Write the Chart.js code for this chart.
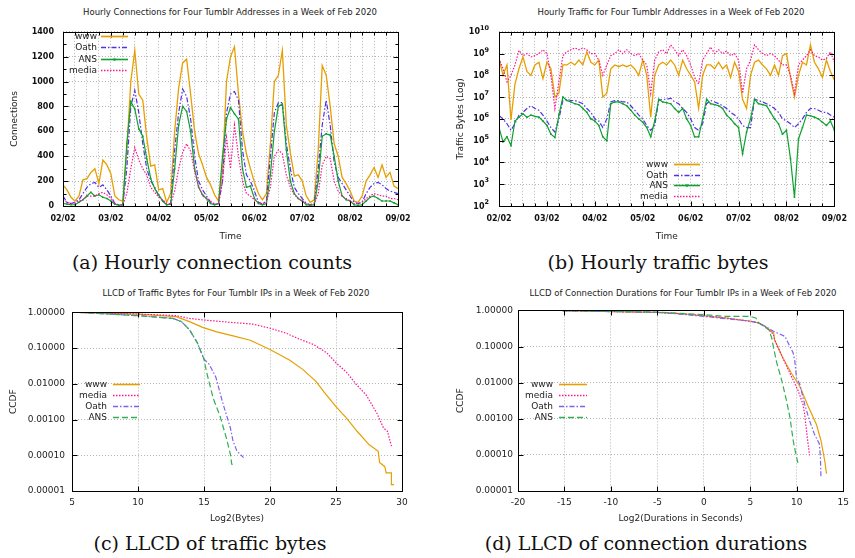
<!DOCTYPE html>
<html><head><meta charset="utf-8">
<script src="https://cdn.jsdelivr.net/npm/chart.js@4.4.1/dist/chart.umd.min.js"></script>
<style>
html,body{margin:0;padding:0;background:#fff;}
body{width:855px;height:558px;position:relative;overflow:hidden;font-family:"DejaVu Sans",sans-serif;}
canvas{position:absolute;}
.ttl{position:absolute;font-family:"DejaVu Sans";font-size:8.5px;line-height:10px;color:#222;white-space:nowrap;transform:translateX(-50%);}
.cap{position:absolute;font-family:"DejaVu Serif";font-size:19px;line-height:22px;color:#111;white-space:nowrap;transform:translateX(-50%);}
</style></head><body>
<div class="ttl" style="left:230px;top:7px">Hourly Connections for Four Tumblr Addresses in a Week of Feb 2020</div>
<div class="ttl" style="left:671px;top:7px">Hourly Traffic for Four Tumblr Addresses in a Week of Feb 2020</div>
<div class="ttl" style="left:236px;top:288px">LLCD of Traffic Bytes for Four Tumblr IPs in a Week of Feb 2020</div>
<div class="ttl" style="left:683px;top:288px">LLCD of Connection Durations for Four Tumblr IPs in a Week of Feb 2020</div>
<canvas id="ca" width="427" height="232" style="left:0;top:18px"></canvas>
<canvas id="cb" width="425" height="232" style="left:430px;top:18px"></canvas>
<canvas id="cc" width="430" height="230" style="left:0;top:300px"></canvas>
<canvas id="cd" width="425" height="230" style="left:430px;top:300px"></canvas>
<div class="cap" style="left:212px;top:251px">(a) Hourly connection counts</div>
<div class="cap" style="left:658px;top:251px">(b) Hourly traffic bytes</div>
<div class="cap" style="left:210px;top:532px">(c) LLCD of traffic bytes</div>
<div class="cap" style="left:646px;top:532px">(d) LLCD of connection durations</div>
<script>
// ---------- categories / tick labels ----------
const hours = [0,2,4,6,8,10,12,14,16,18,20,22,24,26,28,30,32,34,36,38,40,42,44,46,48,50,52,54,56,58,60,62,64,66,68,70,72,74,76,78,80,82,84,86,88,90,92,94,96,98,100,102,104,106,108,110,112,114,116,118,120,122,124,126,128,130,132,134,136,138,140,142,144,146,148,150,152,154,156,158,160,162,164,166,168];
const dayLabels = ['02/02','03/02','04/02','05/02','06/02','07/02','08/02','09/02'];
const logTicks = [1e2,1e3,1e4,1e5,1e6,1e7,1e8,1e9,1e10];
const logTickBase = '10';
const logTickExponents = ['2','3','4','5','6','7','8','9','10'];
const ccdfTicks = [1e-5,1e-4,1e-3,1e-2,1e-1,1];
const ccdfTickLabels = ['0.00001','0.00010','0.00100','0.01000','0.10000','1.00000'];

// ---------- (a) hourly connections ----------
const connWww = [170,130,70,40,80,210,220,270,300,180,370,330,
 260,80,50,40,450,1000,1250,900,850,550,320,330,
 130,140,30,100,600,950,1150,1180,900,600,420,330,
 230,170,90,40,300,1000,1200,1280,900,600,420,300,
 190,100,50,100,500,1000,1050,1250,650,430,240,250,
 200,80,30,50,450,1130,1050,800,500,400,230,180,
 120,40,30,80,200,250,310,230,330,230,270,160,
 140];
const connOath = [80,30,20,30,50,100,150,180,190,150,170,130,
 80,20,10,10,300,800,930,750,500,300,200,150,
 80,40,10,20,450,750,940,880,700,400,200,130,
 80,30,15,20,200,750,900,920,850,450,250,200,
 120,30,15,40,400,750,830,830,500,300,150,100,
 60,20,10,20,300,650,850,650,350,230,180,130,
 80,30,20,30,100,150,180,190,170,140,120,110,
 100];
const connAns = [20,15,10,10,30,50,80,110,80,90,70,60,
 40,15,5,10,500,840,780,620,560,380,220,140,
 90,40,10,15,300,650,800,760,600,300,150,90,
 60,20,10,20,400,700,790,740,700,300,150,160,
 60,20,10,20,250,600,800,820,450,200,100,60,
 40,10,5,10,200,560,580,570,400,200,80,50,
 40,10,5,10,40,70,80,60,40,40,40,25,
 10];
const connMedia = [50,30,20,25,40,50,80,80,80,100,110,90,
 60,20,10,10,100,300,470,370,300,250,150,110,
 70,50,20,15,120,300,430,500,440,280,160,80,
 60,40,15,20,200,550,300,650,400,200,100,80,
 50,30,20,30,150,400,450,420,250,150,90,60,
 40,20,10,15,100,330,400,380,200,120,80,60,
 40,20,20,30,60,80,100,90,80,80,60,60,
 50];

// ---------- (b) hourly traffic bytes ----------
const bytesWww = [6e8,1e8,3e8,9e5,4e7,2e8,7e8,1.5e8,1e8,3e8,4e8,7e7,
 4e8,2e8,1e7,1.5e7,3e8,3e8,4e8,3e8,5e8,3e8,1.2e9,4e8,
 3e8,5e8,1e7,1.5e7,2e8,3e8,2.5e8,3e8,2.5e8,3e8,2e8,1e8,
 5e8,1e8,1.2e6,1e8,3e8,4e8,3e8,5e8,3e8,1e8,5e8,2e8,
 1e8,5e7,3e6,1e8,3e8,3e8,2e8,4e8,2e8,3e8,8e7,4e8,
 1.5e8,8e6,3e6,1e8,4e8,5e8,3e8,2e8,1e8,3e8,1e8,8e8,
 1e9,8e7,1e7,1e8,4e8,3e8,2.5e9,4e8,2e8,8e7,5e8,1.5e8,
 6e7];
const bytesOath = [1.4e6,1e6,6e5,3e5,6e5,1.5e6,2e6,3e6,4e6,3e6,2.5e6,1.5e6,
 8e5,4e5,2.5e5,1e6,7e6,8e6,7e6,7e6,6e6,5e6,3e6,2e6,
 1e6,8e5,4e5,1e6,6e6,7e6,7e6,6e6,6e6,4e6,2.5e6,1.5e6,
 1e6,5e5,3e5,5e5,7e6,8e6,8e6,9e6,6e6,5e6,3e6,2e6,
 1e6,4e5,3e5,6e5,5e6,7e6,6e6,5e6,4e6,3e6,2e6,1.5e6,
 1e6,5e5,4e5,4e5,8e6,7e6,6e6,5e6,4e6,3e6,2e6,1e6,
 8e5,6e5,4e5,6e5,1e6,2e6,3e6,3e6,2.5e6,2e6,2e6,1.5e6,
 1.2e6];
const bytesAns = [4e5,9e4,1.5e5,6e4,8e5,1.2e6,1.7e6,1.2e6,1.5e6,1.3e6,1.2e6,8e5,
 5e5,2e5,1.4e5,1.5e6,1e7,7e6,6e6,5e6,4.5e6,3e6,2e6,1e6,
 8e5,5e5,1.5e5,1e5,5e6,6e6,6e6,5e6,4e6,2.5e6,1.5e6,1e6,
 7e5,4e5,1.5e5,8e5,8e6,6e6,5.5e6,5e6,3e6,2e6,3e6,1e6,
 5e5,1.5e5,1.5e5,1e6,8e6,5e6,4.5e6,4e6,3e6,1.5e6,1e6,6e5,
 4e5,2.5e4,2.5e5,1e6,8e6,5e6,4.5e6,4e6,2e6,1e6,6e5,2e5,
 3e5,1.5e4,2.5e2,1.2e5,4e5,1.5e6,1.4e6,1.2e6,1e6,7e5,5e5,8e5,
 3e5];
const bytesMedia = [6e8,2e8,5e7,1e8,3e8,1.4e9,8e8,1e9,7e8,8e8,1e9,1.5e9,
 1e9,1e8,3e6,5e7,8e8,1.2e9,1.5e9,1.8e9,1.5e9,1.8e9,1.5e9,1e9,
 1e9,5e8,1e8,3e8,8e8,1e9,1.5e9,1e9,1.5e9,1e9,8e8,1e9,
 5e8,3e8,1.5e7,5e8,1.2e9,1.5e9,1e9,2.5e9,1.5e9,8e8,1.5e9,8e8,
 3e8,8e7,4e7,5e8,1e9,2e9,1e9,1.5e9,1e9,1.3e9,8e8,1e9,
 5e8,1.5e7,2e8,5e8,2.5e9,1.5e9,1e9,8e8,1e9,8e8,5e8,3e8,
 3e8,1e8,1.5e7,3e8,5e8,8e8,1.5e9,8e8,7e8,5e8,6e8,1.2e9,
 4e8];

// ---------- (c) LLCD of traffic bytes ----------
const wwwBytesX = [5.5,10,12.9,13.9,14.9,15.9,17.2,18.5,20,21.5,22.5,23.5,24.1,25,25.8,26.6,27.5,28.2,28.3,28.7,28.8,29.2,29.2,29.4];
const wwwBytesY = [1.0,0.9,0.76,0.55,0.38,0.29,0.22,0.166,0.092,0.046,0.025,0.0116,0.0059,0.0023,0.0011,0.00047,0.0002,0.00013,0.000063,0.000048,0.000032,0.000032,0.000015,0.000015];
const mediaBytesX = [5.5,10,12.9,13.9,14.9,17.2,18.7,20,21.2,22.2,23.3,24.3,25,25.8,26.5,27.3,28.1,28.6,28.9,29.0,29.2];
const mediaBytesY = [1.0,0.9,0.81,0.68,0.615,0.52,0.47,0.36,0.264,0.18,0.126,0.074,0.039,0.021,0.01,0.0048,0.0015,0.00058,0.00047,0.00034,0.00018];
const oathBytesX = [5.5,10,12.65,13.3,13.9,14.5,15,15.4,15.9,16.4,17,17.2,17.5,18];
const oathBytesY = [1.0,0.81,0.68,0.55,0.326,0.14,0.049,0.035,0.0153,0.0031,0.00058,0.00025,0.00013,0.000086];
const ansBytesX = [5.5,10,12.65,13.3,13.9,14.5,15,15.2,15.7,16.2,16.7,17,17.1,17.3];
const ansBytesY = [1.0,0.81,0.68,0.55,0.326,0.14,0.049,0.021,0.0039,0.0013,0.0003,0.000106,0.000056,0.000056];

// ---------- (d) LLCD of connection durations ----------
const wwwDurX = [-15.2,-5,-2.5,0,2.4,5,5.9,6.6,7.5,7.6,8.5,9.4,10.3,11.2,12.1,12.6,13,13.2];
const wwwDurY = [0.98,0.88,0.81,0.71,0.615,0.5,0.45,0.36,0.238,0.155,0.048,0.0185,0.0081,0.0023,0.00071,0.00025,0.00007,0.00003];
const mediaDurX = [-15.2,-5,-2.5,0,2.4,5,5.9,6.6,7.5,7.6,8.5,9.4,10.14,10.67,10.85,11.13,11.37];
const mediaDurY = [0.98,0.88,0.81,0.71,0.615,0.5,0.45,0.36,0.214,0.155,0.048,0.0153,0.006,0.0025,0.0013,0.0003,0.000097];
const oathDurX = [-15.2,-5,-2.5,0,2.4,5,5.9,6.6,7.5,8.73,9.61,9.79,9.96,10.32,10.85,11.37,11.9,12.43,12.54,12.6];
const oathDurY = [0.98,0.88,0.79,0.68,0.59,0.5,0.45,0.36,0.264,0.19,0.066,0.039,0.0139,0.0091,0.0025,0.00089,0.00037,0.0002,0.000086,0.000024];
const ansDurX = [-15.2,-5,0,2.4,5,5.6,5.9,7,7.3,7.5,7.85,8.4,8.9,9.26,9.61,9.86,10.14];
const ansDurY = [0.98,0.9,0.76,0.68,0.68,0.615,0.45,0.29,0.173,0.092,0.035,0.011,0.0031,0.0011,0.00025,0.000118,0.000056];

// ---------- plugins ----------
const gnuFrame = {
  id: 'gnuFrame',
  afterDatasetsDraw(chart, args, o) {
    const {ctx, chartArea: a, scales} = chart;
    const L = Math.round(a.left) + 0.5, R = Math.round(a.right) + 0.5;
    const T = Math.round(a.top) + 0.5, B = Math.round(a.bottom) + 0.5;
    ctx.save();
    ctx.setLineDash([]);
    ctx.strokeStyle = '#000';
    ctx.lineWidth = 1;
    ctx.beginPath();
    const maj = o.major || 5, mn = o.minor || 3;
    scales.x.ticks.forEach(t => {
      const px = Math.round(scales.x.getPixelForValue(t.value)) + 0.5;
      const len = (t.label === '' ? mn : maj);
      ctx.moveTo(px, B); ctx.lineTo(px, B - len);
      ctx.moveTo(px, T); ctx.lineTo(px, T + len);
    });
    const yt = scales.y.ticks;
    yt.forEach((t, i) => {
      const py = Math.round(scales.y.getPixelForValue(t.value)) + 0.5;
      ctx.moveTo(L, py); ctx.lineTo(L + maj, py);
      ctx.moveTo(R, py); ctx.lineTo(R - maj, py);
      if (o.yMinorMid && i < yt.length - 1) {
        const pm = Math.round(scales.y.getPixelForValue((t.value + yt[i + 1].value) / 2)) + 0.5;
        ctx.moveTo(L, pm); ctx.lineTo(L + mn, pm);
        ctx.moveTo(R, pm); ctx.lineTo(R - mn, pm);
      }
    });
    ctx.stroke();
    ctx.strokeRect(L, T, R - L, B - T);
    // power-of-ten tick labels with raised exponents
    if (o.powerLabels) {
      ctx.fillStyle = '#111';
      ctx.textAlign = 'right';
      ctx.textBaseline = 'middle';
      yt.forEach((t, i) => {
        const py = scales.y.getPixelForValue(t.value);
        const xr = a.left - o.powerLabels.gap;
        ctx.font = 'bold 6.5px "DejaVu Sans"';
        const ew = ctx.measureText(logTickExponents[i]).width;
        ctx.fillText(logTickExponents[i], xr, py - 3.5);
        ctx.font = 'bold 8px "DejaVu Sans"';
        ctx.fillText(logTickBase, xr - ew, py + 0.5);
      });
    }
    ctx.restore();
  }
};
const gnuLegend = {
  id: 'gnuLegend',
  afterDraw(chart, args, o) {
    if (!o || o.textRight === undefined) return;
    const ctx = chart.ctx;
    ctx.save();
    ctx.font = '9px "DejaVu Sans"';
    ctx.textAlign = 'right';
    ctx.textBaseline = 'middle';
    chart.data.datasets.forEach((ds, i) => {
      const y = Math.round(o.top + i * o.step) + 0.5;
      ctx.fillStyle = '#222';
      ctx.fillText(ds.label, o.textRight, y);
      ctx.strokeStyle = ds.borderColor;
      ctx.lineWidth = (ds.borderWidth || 1) + 0.4;
      ctx.setLineDash(ds.borderDash || []);
      ctx.beginPath();
      ctx.moveTo(o.x0, y); ctx.lineTo(o.x1, y);
      ctx.stroke();
      if (ds.pointRadius) {
        const r = ds.pointRadius;
        ctx.fillStyle = ds.borderColor;
        ctx.fillRect((o.x0 + o.x1) / 2 - r, y - r, 2 * r, 2 * r);
      }
    });
    ctx.restore();
  }
};
Chart.register(gnuFrame, gnuLegend);
Chart.defaults.font.family = 'DejaVu Sans';
Chart.defaults.color = '#222';

const pts = (xs, ys) => xs.map((x, i) => ({x: x, y: ys[i]}));
const GRID = {color: '#b4b4b4', drawTicks: false, lineWidth: 1};
const BORDER = {display: false, dash: [1, 2]};
const C_WWW = '#e69f00', C_OATH = '#5030e8', C_ANS = '#10a030', C_MEDIA = '#ff1493';
const C_OATH2 = '#8060f0', C_ANS2 = '#30b050';

function lineDs(label, data, color, opts) {
  return Object.assign({label: label, data: data, borderColor: color, backgroundColor: color,
    borderWidth: 1.2, pointRadius: 0, tension: 0, fill: false}, opts || {});
}
function baseOptions(cfg) {
  return {
    responsive: false, animation: false, devicePixelRatio: 1,
    layout: {autoPadding: false, padding: {top: cfg.padTop, right: cfg.padRight, bottom: 0, left: 0}},
    plugins: {legend: {display: false}, title: {display: false}, tooltip: {enabled: false},
      gnuFrame: cfg.frame, gnuLegend: cfg.legend},
    scales: {x: cfg.x, y: cfg.y}
  };
}

// ---------- chart (a) ----------
new Chart(document.getElementById('ca'), {
  type: 'line',
  data: {datasets: [
    lineDs('www', pts(hours, connWww), C_WWW, {borderWidth: 1.3, order: 4}),
    lineDs('Oath', pts(hours, connOath), C_OATH, {borderDash: [5, 2, 1.5, 2], order: 3}),
    lineDs('ANS', pts(hours, connAns), C_ANS, {pointRadius: 1.1, pointStyle: 'rect', pointBorderWidth: 0, order: 2}),
    lineDs('media', pts(hours, connMedia), C_MEDIA, {borderDash: [1.5, 1.5], order: 1})
  ]},
  options: baseOptions({
    padTop: 9, padRight: 29,
    frame: {major: 5, minor: 3, yMinorMid: true},
    legend: {textRight: 97, x0: 101, x1: 128, top: 18, step: 11.3},
    x: {type: 'linear', min: 0, max: 168,
      ticks: {stepSize: 6, autoSkip: false, maxRotation: 0, padding: 8, color: '#111',
        font: {size: 8, weight: 'bold'},
        callback: v => (v % 24 === 0 ? dayLabels[v / 24] : '')},
      grid: GRID, border: BORDER,
      title: {display: true, text: 'Time', font: {size: 9}, color: '#222', padding: {top: 0, bottom: 8}},
      afterFit: s => { s.height = 44; }},
    y: {type: 'linear', min: 0, max: 1400,
      ticks: {stepSize: 200, padding: 9, color: '#111', font: {size: 8, weight: 'bold'}, callback: v => String(v)},
      grid: GRID, border: BORDER,
      title: {display: true, text: 'Connections', font: {size: 9}, color: '#222', padding: {top: 9, bottom: 0}},
      afterFit: s => { s.width = 63; }}
  })
});

// ---------- chart (b) ----------
new Chart(document.getElementById('cb'), {
  type: 'line',
  data: {datasets: [
    lineDs('www', pts(hours, bytesWww), C_WWW, {borderWidth: 1.3, order: 4}),
    lineDs('Oath', pts(hours, bytesOath), C_OATH, {borderDash: [5, 2, 1.5, 2], order: 3}),
    lineDs('ANS', pts(hours, bytesAns), C_ANS, {pointRadius: 1.1, pointStyle: 'rect', pointBorderWidth: 0, order: 2}),
    lineDs('media', pts(hours, bytesMedia), C_MEDIA, {borderDash: [1.5, 1.5], order: 1})
  ]},
  options: baseOptions({
    padTop: 10, padRight: 10,
    frame: {major: 5, minor: 3, powerLabels: {gap: 10}},
    legend: {textRight: 238, x0: 244, x1: 270, top: 146, step: 10.7},
    x: {type: 'linear', min: 0, max: 168,
      ticks: {stepSize: 6, autoSkip: false, maxRotation: 0, padding: 8, color: '#111',
        font: {size: 8, weight: 'bold'},
        callback: v => (v % 24 === 0 ? dayLabels[v / 24] : '')},
      grid: GRID, border: BORDER,
      title: {display: true, text: 'Time', font: {size: 9}, color: '#222', padding: {top: 0, bottom: 8}},
      afterFit: s => { s.height = 44; }},
    y: {type: 'logarithmic', min: 1e2, max: 1e10,
      afterBuildTicks: s => { s.ticks = logTicks.map(v => ({value: v})); },
      ticks: {autoSkip: false, padding: 9, color: '#111', font: {size: 8, weight: 'bold'},
        callback: () => ''},
      grid: GRID, border: BORDER,
      title: {display: true, text: 'Traffic Bytes (Log)', font: {size: 9}, color: '#222', padding: {top: 25, bottom: 0}},
      afterFit: s => { s.width = 69; }}
  })
});

// ---------- chart (c) ----------
new Chart(document.getElementById('cc'), {
  type: 'line',
  data: {datasets: [
    lineDs('www', pts(wwwBytesX, wwwBytesY), C_WWW, {order: 4}),
    lineDs('media', pts(mediaBytesX, mediaBytesY), C_MEDIA, {borderDash: [1.5, 1.5], order: 3}),
    lineDs('Oath', pts(oathBytesX, oathBytesY), C_OATH2, {borderDash: [5, 2, 1.5, 2], order: 2}),
    lineDs('ANS', pts(ansBytesX, ansBytesY), C_ANS2, {borderDash: [6, 3], order: 1})
  ]},
  options: baseOptions({
    padTop: 9, padRight: 28,
    frame: {major: 5, minor: 3},
    legend: {textRight: 107, x0: 113, x1: 140, top: 84, step: 11},
    x: {type: 'linear', min: 5, max: 30,
      ticks: {stepSize: 5, autoSkip: false, maxRotation: 0, padding: 6, color: '#222', font: {size: 9},
        callback: v => String(v)},
      grid: GRID, border: BORDER,
      title: {display: true, text: 'Log2(Bytes)', font: {size: 9}, color: '#222', padding: {top: 0, bottom: 6}},
      afterFit: s => { s.height = 39; }},
    y: {type: 'logarithmic', min: 1e-5, max: 1,
      afterBuildTicks: s => { s.ticks = ccdfTicks.map(v => ({value: v})); },
      ticks: {autoSkip: false, padding: 7, color: '#222', font: {size: 9},
        callback: (v, i) => ccdfTickLabels[i]},
      grid: GRID, border: BORDER,
      title: {display: true, text: 'CCDF', font: {size: 9}, color: '#222', padding: {top: 8, bottom: 0}},
      afterFit: s => { s.width = 72; }}
  })
});

// ---------- chart (d) ----------
new Chart(document.getElementById('cd'), {
  type: 'line',
  data: {datasets: [
    lineDs('www', pts(wwwDurX, wwwDurY), C_WWW, {order: 4}),
    lineDs('media', pts(mediaDurX, mediaDurY), C_MEDIA, {borderDash: [1.5, 1.5], order: 3}),
    lineDs('Oath', pts(oathDurX, oathDurY), C_OATH2, {borderDash: [5, 2, 1.5, 2], order: 2}),
    lineDs('ANS', pts(ansDurX, ansDurY), C_ANS2, {borderDash: [6, 3], order: 1})
  ]},
  options: baseOptions({
    padTop: 9, padRight: 7,
    frame: {major: 5, minor: 3},
    legend: {textRight: 123, x0: 129, x1: 157, top: 84, step: 11},
    x: {type: 'linear', min: -20, max: 15,
      ticks: {stepSize: 5, autoSkip: false, maxRotation: 0, padding: 6, color: '#222', font: {size: 9},
        callback: v => String(v)},
      grid: GRID, border: BORDER,
      title: {display: true, text: 'Log2(Durations in Seconds)', font: {size: 9}, color: '#222', padding: {top: 0, bottom: 6}},
      afterFit: s => { s.height = 39; }},
    y: {type: 'logarithmic', min: 1e-5, max: 1,
      afterBuildTicks: s => { s.ticks = ccdfTicks.map(v => ({value: v})); },
      ticks: {autoSkip: false, padding: 5, color: '#222', font: {size: 9},
        callback: (v, i) => ccdfTickLabels[i]},
      grid: GRID, border: BORDER,
      title: {display: true, text: 'CCDF', font: {size: 9}, color: '#222', padding: {top: 25, bottom: 0}},
      afterFit: s => { s.width = 88; }}
  })
});
</script>
</body></html>
